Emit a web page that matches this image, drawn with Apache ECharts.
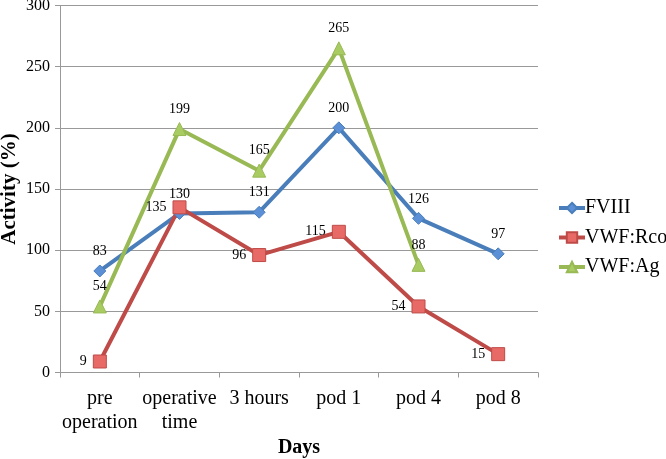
<!DOCTYPE html>
<html>
<head>
<meta charset="utf-8">
<script src="https://cdn.jsdelivr.net/npm/echarts@6/dist/echarts.min.js"></script>
<style>html,body{margin:0;padding:0;background:#fff;}#c{width:666px;height:459px;}</style>
</head>
<body>
<div id="c"></div>
<script>
const categories = ['pre\noperation', 'operative\ntime', '3 hours', 'pod 1', 'pod 4', 'pod 8'];
const fviii = [83, 130, 131, 200, 126, 97];
const vwfRco = [9, 135, 96, 115, 54, 15];
const vwfAg = [54, 199, 165, 265, 88, null];
const yTicks = [0, 50, 100, 150, 200, 250, 300];

const font = 'Liberation Serif';
const chart = echarts.init(document.getElementById('c'));
function lbl(pos) {
  return { show: true, position: pos, distance: 6, fontFamily: font, fontSize: 14, color: '#000' };
}
chart.setOption({
  animation: false,
  textStyle: { fontFamily: font },
  grid: { left: 60, right: 128, top: 5.5, bottom: 86.5, containLabel: false, outerBoundsMode: 'none' },
  legend: {
    orient: 'vertical', left: 552, top: 193, itemGap: 9.5,
    itemWidth: 26, itemHeight: 13,
    lineStyle: { width: 4 },
    textStyle: { fontFamily: font, fontSize: 20, color: '#000', padding: [0, 0, 0, -5] },
    data: ['FVIII', 'VWF:Rco', 'VWF:Ag']
  },
  xAxis: {
    type: 'category', data: categories, boundaryGap: true,
    name: 'Days', nameLocation: 'middle', nameGap: 65, nameMoveOverlap: false,
    nameTextStyle: { fontFamily: font, fontSize: 20, fontWeight: 'bold', color: '#000' },
    axisLine: { lineStyle: { color: '#999', width: 1 } },
    axisTick: { show: true, length: 5, interval: 0, lineStyle: { color: '#999' } },
    axisLabel: { interval: 0, fontFamily: font, fontSize: 20, color: '#000', lineHeight: 24, margin: 14 }
  },
  yAxis: {
    type: 'value', min: yTicks[0], max: yTicks[yTicks.length - 1], interval: 50,
    name: 'Activity (%)', nameLocation: 'middle', nameGap: 40, nameMoveOverlap: false,
    nameTextStyle: { fontFamily: font, fontSize: 21, fontWeight: 'bold', color: '#000' },
    axisLine: { show: true, lineStyle: { color: '#999', width: 1 } },
    axisTick: { show: true, length: 5, lineStyle: { color: '#999' } },
    axisLabel: { fontFamily: font, fontSize: 16, color: '#000', margin: 10 },
    splitLine: { lineStyle: { color: '#999', width: 1 } }
  },
  series: [
    {
      name: 'FVIII', type: 'line', data: fviii,
      symbol: 'diamond', symbolSize: 12,
      lineStyle: { color: '#4a7ebb', width: 4 },
      itemStyle: { color: '#5b8fd6', borderColor: '#4a7ebb', borderWidth: 1 },
      label: lbl('top')
    },
    {
      name: 'VWF:Rco', type: 'line', data: vwfRco,
      symbol: 'rect', symbolSize: 13,
      lineStyle: { color: '#be4b48', width: 4 },
      itemStyle: { color: '#e86a67', borderColor: '#be4b48', borderWidth: 1 },
      label: lbl('left')
    },
    {
      name: 'VWF:Ag', type: 'line', data: vwfAg,
      symbol: 'triangle', symbolSize: 13,
      lineStyle: { color: '#98b954', width: 4 },
      itemStyle: { color: '#a8cc62', borderColor: '#98b954', borderWidth: 1 },
      label: lbl('top')
    }
  ]
});
</script>
</body>
</html>
